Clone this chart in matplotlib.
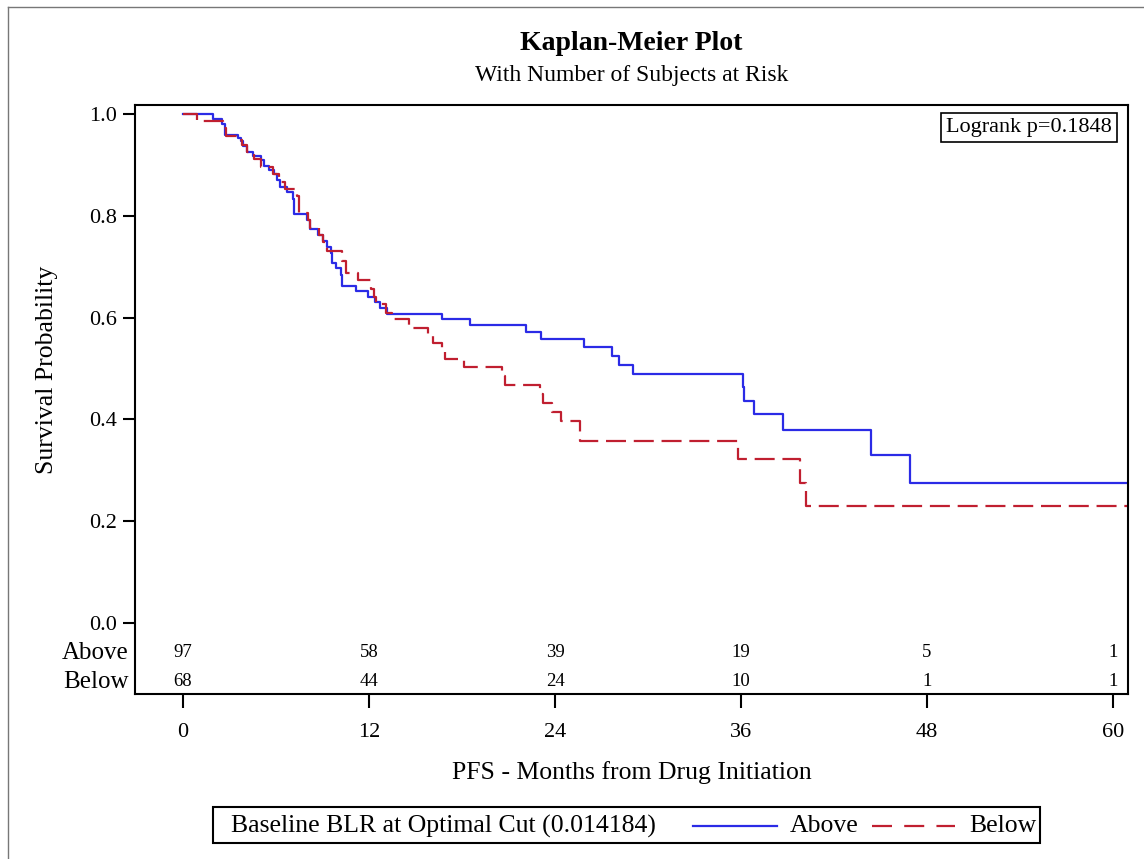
import matplotlib
matplotlib.use('Agg')
import matplotlib.pyplot as plt
from matplotlib.lines import Line2D
from matplotlib.patches import Rectangle

plt.rcParams['font.family'] = ['Liberation Serif', 'DejaVu Serif']

# Kaplan-Meier step points (months, survival)
above_t = [0, 1.96, 2.49, 2.71, 3.57, 3.72, 3.9, 4.11, 4.5, 5.01, 5.23, 5.53, 5.87,
           6.08, 6.26, 6.73, 7.08, 7.16, 7.98, 8.19, 8.73, 9.05, 9.27, 9.53, 9.59,
           9.87, 10.17, 10.24, 11.16, 11.96, 12.39, 12.71, 13.14, 16.7, 18.5, 22.1,
           23.1, 25.9, 27.7, 28.15, 29.05, 36.15, 36.2, 36.86, 38.7, 44.4, 46.9, 61]
above_s = [1.0, 0.990, 0.980, 0.959, 0.952, 0.946, 0.938, 0.926, 0.918, 0.910, 0.898,
           0.890, 0.883, 0.870, 0.857, 0.846, 0.834, 0.803, 0.792, 0.775, 0.762, 0.750,
           0.739, 0.726, 0.707, 0.697, 0.684, 0.662, 0.652, 0.641, 0.630, 0.619, 0.608,
           0.597, 0.585, 0.571, 0.557, 0.543, 0.525, 0.507, 0.489, 0.463, 0.437, 0.410,
           0.379, 0.331, 0.276, 0.276]

below_t = [0, 0.88, 2.6, 2.75, 3.6, 3.8, 4.15, 4.55, 5.0, 5.8, 6.2, 6.6, 7.35, 7.5,
           8.05, 8.2, 8.75, 9.05, 9.3, 10.24, 10.5, 11.3, 12.1, 12.3, 12.45, 13.1,
           13.5, 14.6, 15.8, 16.1, 16.7, 16.9, 18.1, 20.6, 20.8, 23.0, 23.2, 23.8,
           24.4, 25.6, 35.8, 39.8, 40.2, 61]
below_s = [1.0, 0.986, 0.972, 0.957, 0.948, 0.940, 0.926, 0.912, 0.896, 0.883, 0.866,
           0.853, 0.838, 0.805, 0.792, 0.776, 0.762, 0.749, 0.731, 0.711, 0.687, 0.673,
           0.657, 0.641, 0.627, 0.610, 0.597, 0.580, 0.566, 0.551, 0.534, 0.519, 0.502,
           0.485, 0.468, 0.450, 0.432, 0.415, 0.397, 0.358, 0.323, 0.275, 0.230, 0.230]

risk_times = [0, 12, 24, 36, 48, 60]
risk_above = [97, 58, 39, 19, 5, 1]
risk_below = [68, 44, 24, 10, 1, 1]

blue = '#2B2BE6'
red = '#C01F30'
W, H = 1144, 859

fig = plt.figure(figsize=(11.44, 8.59), dpi=100)
ax = fig.add_axes([135 / W, 1 - 694 / H, (1128 - 135) / W, (694 - 105) / H])

ax.step(above_t, above_s, where='post', color=blue, lw=1.6)
ax.step(below_t, below_s, where='post', color=red, lw=1.6, linestyle=(0, (9, 3.5)))

ax.set_xlim(-3.1, 60.97)
ax.set_ylim(-0.1395, 1.0177)
ax.set_xticks(risk_times)
ax.set_yticks([0.0, 0.2, 0.4, 0.6, 0.8, 1.0])
ax.set_yticklabels(['0.0', '0.2', '0.4', '0.6', '0.8', '1.0'])
ax.tick_params(axis='both', labelsize=16, width=1.5, direction='out', colors='black')
ax.tick_params(axis='x', length=10, pad=11)
ax.tick_params(axis='y', length=9, pad=4)
for sp in ax.spines.values():
    sp.set_linewidth(1.5)

ax.set_xlabel('PFS - Months from Drug Initiation', fontsize=18.5)
ax.xaxis.set_label_coords(0.5, -(773 - 694) / 589)
ax.xaxis.label.set_va('center')
ax.set_ylabel('Survival Probability', fontsize=18.5)
ax.yaxis.set_label_coords(-(135 - 47) / 993, (694 - 370) / 589)
ax.yaxis.label.set_va('center')

# number at risk rows
for t, a, b in zip(risk_times, risk_above, risk_below):
    ha = 'right' if t == 60 else 'center'
    xx = 60.3 if t == 60 else t
    ax.text(xx, -0.058, str(a), ha=ha, va='center', fontsize=13.5)
    ax.text(xx, -0.115, str(b), ha=ha, va='center', fontsize=13.5)
ax.text(-3.5, -0.058, 'Above', ha='right', va='center', fontsize=18)
ax.text(-3.5, -0.115, 'Below', ha='right', va='center', fontsize=18)

ax.text((1112 - 135) / 993, (694 - 118) / 589, 'Logrank p=0.1848', transform=ax.transAxes,
        ha='right', va='top', fontsize=16,
        bbox=dict(boxstyle='square,pad=0.22', fc='white', ec='black', lw=1.2))

fig.text(631.5 / W, 1 - 44 / H, 'Kaplan-Meier Plot', ha='center', va='center',
         fontsize=20, fontweight='bold')
fig.text(631.5 / W, 1 - 75 / H, 'With Number of Subjects at Risk', ha='center',
         va='center', fontsize=17)

# legend box at the bottom
fig.patches.append(Rectangle((213 / W, 1 - 843 / H), (1040 - 213) / W, 36 / H,
                             transform=fig.transFigure, fill=False, ec='black', lw=1.5))
ly = 1 - 826 / H
fig.text(231 / W, ly, 'Baseline BLR at Optimal Cut (0.014184)', ha='left',
         va='center', fontsize=18.5)
fig.lines.append(Line2D([693 / W, 777 / W], [ly, ly], transform=fig.transFigure,
                        color=blue, lw=1.6))
fig.text(790 / W, ly, 'Above', ha='left', va='center', fontsize=18.5)
fig.lines.append(Line2D([872 / W, 955 / W], [ly, ly], transform=fig.transFigure,
                        color=red, lw=1.6, linestyle=(0, (9, 5.5))))
fig.text(969 / W, ly, 'Below', ha='left', va='center', fontsize=18.5)

# outer border (left and top)
fig.lines.append(Line2D([8 / W, 8 / W], [0, 1 - 7 / H], transform=fig.transFigure,
                        color='#777777', lw=1))
fig.lines.append(Line2D([8 / W, 1], [1 - 7 / H, 1 - 7 / H], transform=fig.transFigure,
                        color='#777777', lw=1))

fig.savefig('out.png', dpi=100)
